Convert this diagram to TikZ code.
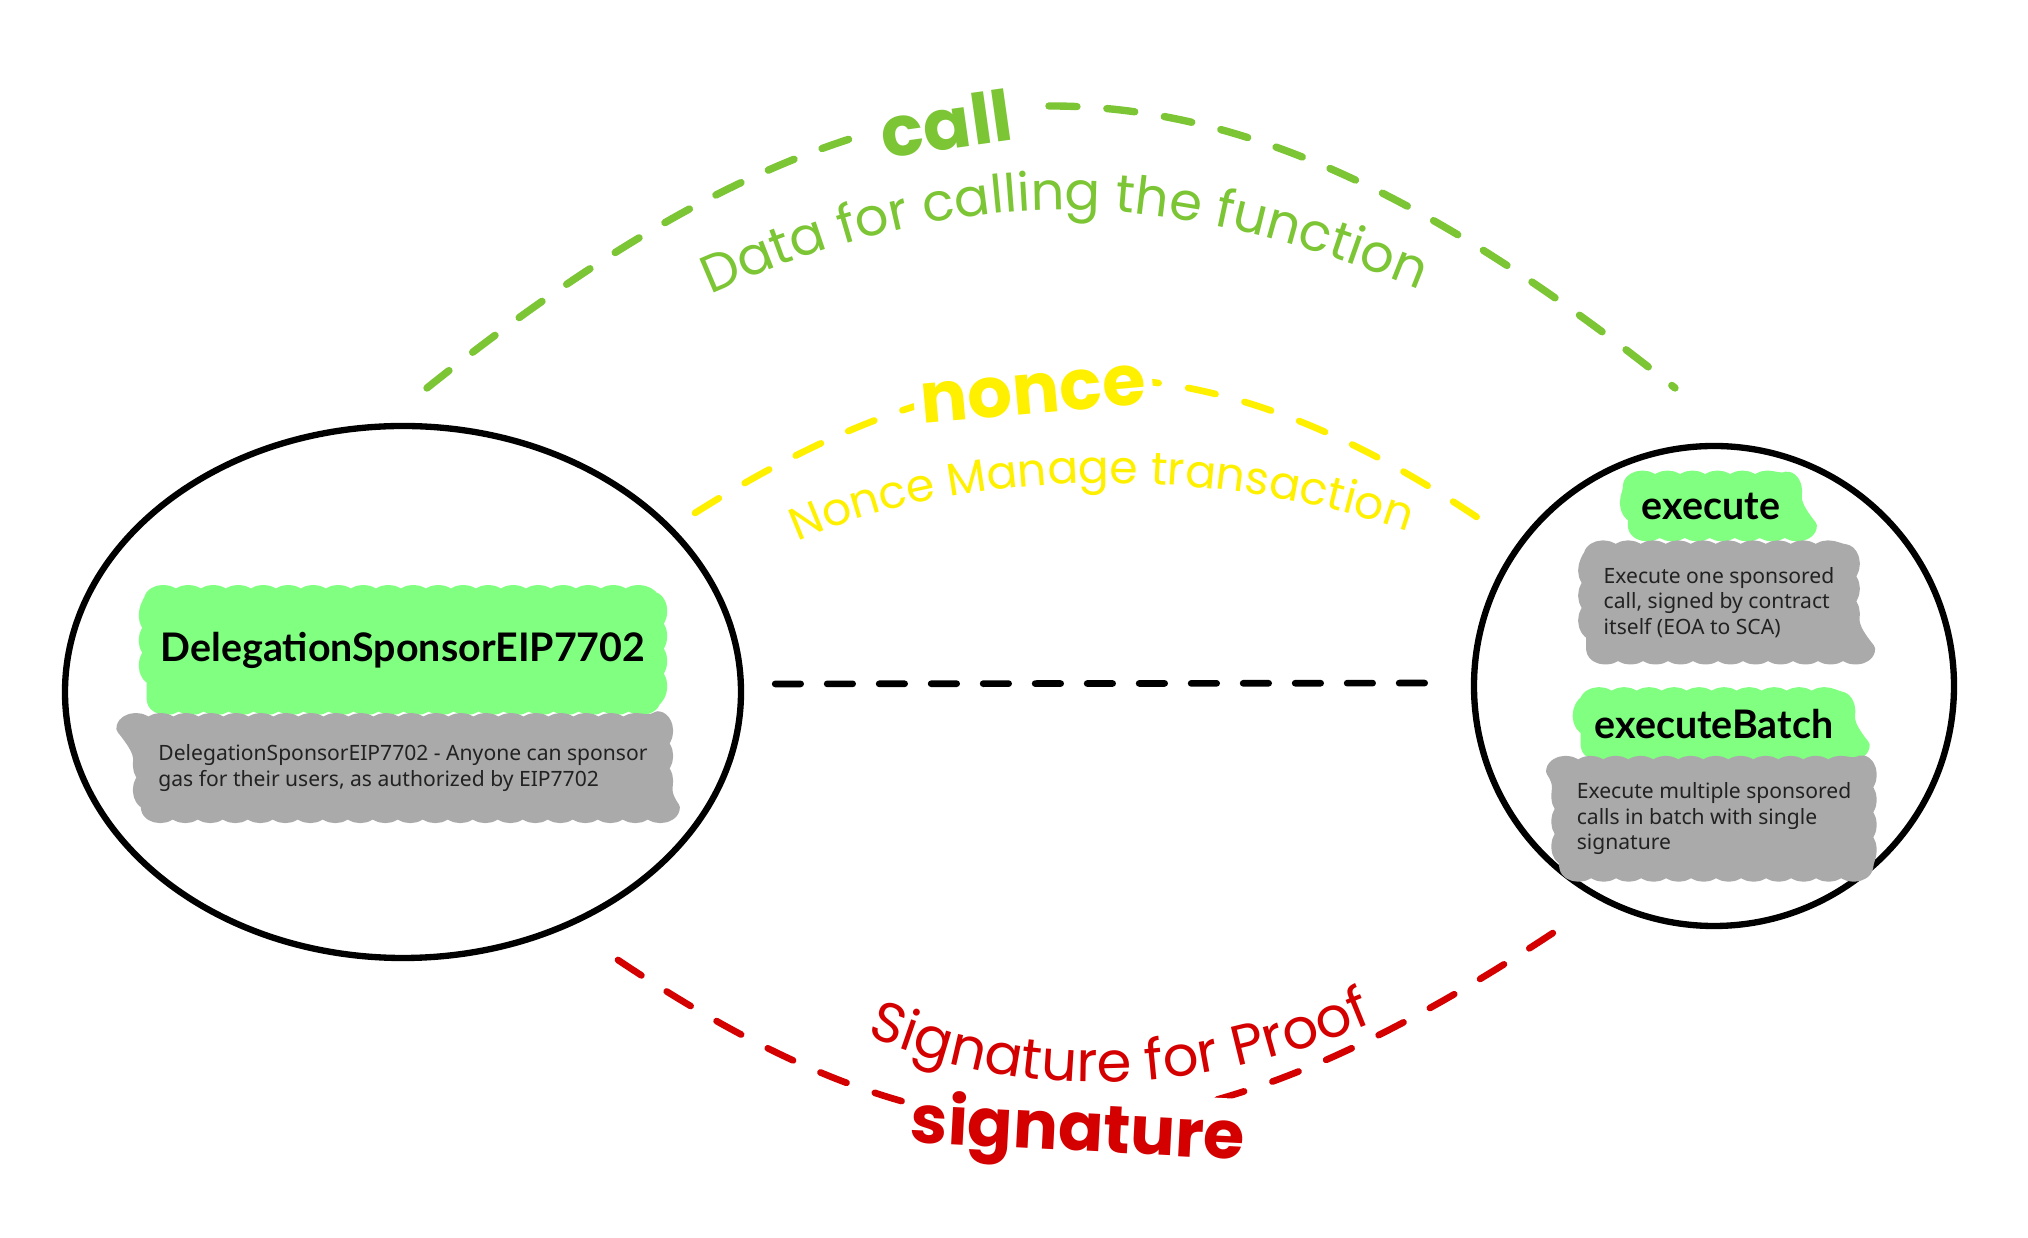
\documentclass[tikz,border=0pt]{standalone}
\usepackage{fontspec}
\usepackage{tikz}
\usetikzlibrary{positioning, shapes.geometric, decorations.pathmorphing, decorations.text}
\setmainfont{Noto Sans}
\newfontfamily\titlefont{Lato}
\newfontfamily\handfont{Poppins}
\definecolor{callgreen}{RGB}{124,197,52}
\definecolor{nonceyellow}{RGB}{255,240,0}
\definecolor{sigred}{RGB}{212,0,0}
\definecolor{hlgreen}{RGB}{128,255,128}
\definecolor{hlgray}{RGB}{170,170,170}
\definecolor{desctext}{RGB}{34,34,34}

\begin{document}
\begin{tikzpicture}[
    oval/.style={ellipse, draw, line width=1.8pt, inner sep=0pt},
    blob/.style={fill=#1, draw=#1, line width=4pt, line join=round,
        decorate, decoration={bumps, mirror, segment length=5mm, amplitude=0.8mm}},
    title/.style={blob=hlgreen, font=\titlefont\bfseries\fontsize{11.2}{13}\selectfont, inner sep=2pt},
    desc/.style={blob=hlgray, text=desctext, font=\fontsize{6}{7.3}\selectfont, align=left, inner xsep=3pt},
    link/.style={line width=2.1pt, line cap=round, dash pattern=on 2.8mm off 3mm},
    tag/.style={fill=white, inner sep=2pt, anchor=base, font=\handfont\bfseries\fontsize{20}{22}\selectfont}
  ]
  \useasboundingbox (0,0) rectangle (20.28,12.38);

  % Contratto a sinistra
  \node[oval, minimum width=6.76cm, minimum height=5.32cm] (L) at (4.03,5.46) {};
  \node[title, minimum width=4.9cm, minimum height=1.0cm] (dsp) at ([yshift=4.2mm]L.center) {DelegationSponsorEIP7702};
  \node[desc, minimum width=5.0cm, minimum height=0.8cm, below=0.14cm of dsp] (dspdesc)
    {DelegationSponsorEIP7702 - Anyone can sponsor\\gas for their users, as authorized by EIP7702};

  % Funzioni a destra
  \node[oval, circle, minimum size=4.8cm] (R) at (17.14,5.52) {};
  \node[title] (exe) at ([shift={(-0.03,1.8)}]R.center) {execute};
  \node[desc, below=0.15cm of exe, xshift=0.08cm] (exedesc)
    {Execute one sponsored\\call, signed by contract\\itself (EOA to SCA)};
  \node[title] (batch) at ([yshift=-3.8mm]R.center) {executeBatch};
  \node[desc, below=0.11cm of batch] (batchdesc)
    {Execute multiple sponsored\\calls in batch with single\\signature};

  % Collegamenti
  \coordinate (callA) at (4.27,8.50);
  \coordinate (callB) at (16.75,8.50);
  \coordinate (nonceA) at (6.95,7.25);
  \coordinate (nonceB) at (15.00,7.05);
  \coordinate (sigA) at (6.18,2.78);
  \coordinate (sigB) at (15.65,3.13);
  \draw[link, callgreen] (callA) .. controls (8.97,12.26) and (12.05,12.26) .. (callB);
  \draw[link, nonceyellow, line width=1.9pt] (nonceA) .. controls (9.85,9.08) and (12.1,9.08) .. (nonceB);
  \draw[link, sigred, line width=1.9pt] (sigA) .. controls (9.51,0.55) and (11.78,0.55) .. (sigB);
  \draw[link, black, line width=1.9pt, dash pattern=on 2.55mm off 2.65mm, shorten <=3.1mm, shorten >=4.2mm]
    ([yshift=0.8mm]L.east) -- ([yshift=0.3mm]R.west);

  % Etichette
  \node[tag, text=callgreen, rotate=8, inner xsep=6pt] (call) at (9.50,10.89) {call};
  \node[tag, text=nonceyellow, rotate=5] (nonce) at (10.35,8.24) {nonce};
  \node[tag, text=sigred, rotate=-3, font=\handfont\bfseries\fontsize{19}{21}\selectfont] (sig) at (10.77,0.87) {signature};

  \path[decorate, decoration={text along path, text align=center,
      text={|\handfont\fontsize{15}{17}\selectfont\color{callgreen}|Data for calling the function}}]
    (6.80,9.30) .. controls (9.6,10.6) and (11.6,10.6) .. (14.50,9.35);
  \path[decorate, decoration={text along path, text align=center,
      text={|\handfont\fontsize{13}{15}\selectfont\color{nonceyellow}|Nonce Manage transaction}}]
    (7.95,6.95) .. controls (9.68,7.73) and (12.2,7.73) .. (14.10,7.05);
  \path[decorate, decoration={text along path, text align=center,
      text={|\handfont\fontsize{16}{18}\selectfont\color{sigred}|Signature for Proof}}]
    (8.45,2.12) .. controls (10.1,1.35) and (11.95,1.35) .. (13.95,2.25);
\end{tikzpicture}
\end{document}
